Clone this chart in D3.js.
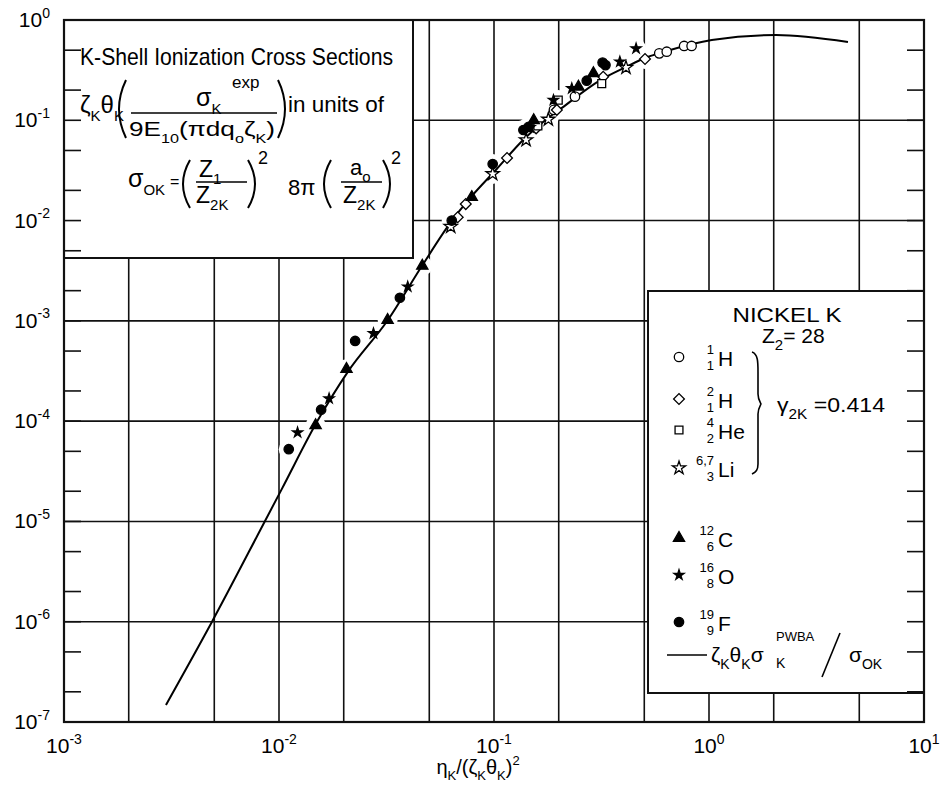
<!DOCTYPE html>
<html><head><meta charset="utf-8">
<script src="https://cdn.jsdelivr.net/npm/d3@7"></script>
<style>
body{margin:0;background:#fff}
svg{display:block}
text{font-family:"Liberation Sans",Arial,sans-serif;fill:#000}
</style>
</head><body>
<svg id="c" width="941" height="786"></svg>
<script>
// ---------------- data ----------------
const xDomain = [1e-3, 10];
const yDomain = [1e-7, 1];
const xTickValues = [1e-3, 1e-2, 1e-1, 1, 10];
const xTickExps = ["-3", "-2", "-1", "0", "1"];
const yTickValues = [1, 1e-1, 1e-2, 1e-3, 1e-4, 1e-5, 1e-6, 1e-7];
const yTickExps = ["0", "-1", "-2", "-3", "-4", "-5", "-6", "-7"];
const xGridValues = [2e-3, 5e-3, 1e-2, 2e-2, 5e-2, 1e-1, 2e-1, 5e-1, 1, 2, 5];
const yGridValues = [1e-1, 1e-2, 1e-3, 1e-4, 1e-5, 1e-6];
const yMinorValues = [5e-1, 2e-1, 5e-2, 2e-2, 5e-3, 2e-3, 5e-4, 2e-4, 5e-5, 2e-5, 5e-6, 2e-6, 5e-7, 2e-7,
                      1e-1, 1e-2, 1e-3, 1e-4, 1e-5, 1e-6];

// theory curve  zeta*theta*sigma_PWBA / sigma_0K
const curveX = [0.00298, 0.00488, 0.00861, 0.0103, 0.0152, 0.0209, 0.0321, 0.0462, 0.0631, 0.0782, 0.103, 0.138, 0.173, 0.207, 0.311, 0.414, 0.504, 0.636, 1.03, 2.05, 4.43];
const curveY = [1.48e-7, 1.0e-6, 1.01e-5, 2.1e-5, 1.03e-4, 3.1e-4, 1.02e-3, 3.52e-3, 9.7e-3, 1.72e-2, 3.27e-2, 6.5e-2, 0.100, 0.133, 0.250, 0.342, 0.418, 0.491, 0.632, 0.708, 0.604];

// experimental points
const H1x  = [0.19, 0.238, 0.587, 0.636, 0.766, 0.83];
const H1y  = [0.127, 0.172, 0.465, 0.483, 0.551, 0.551];
const H2x  = [0.0678, 0.0739, 0.115, 0.157, 0.196, 0.322, 0.504];
const H2y  = [1.08e-2, 1.46e-2, 4.2e-2, 8.3e-2, 0.127, 0.272, 0.409];
const He4x = [0.16, 0.199, 0.317];
const He4y = [0.088, 0.159, 0.232];
const Lix  = [0.0629, 0.0986, 0.141, 0.179, 0.411];
const Liy  = [8.7e-3, 2.92e-2, 6.36e-2, 0.102, 0.335];
const C12x = [0.0148, 0.0206, 0.032, 0.0464, 0.0788, 0.153, 0.247, 0.29];
const C12y = [9.1e-5, 3.3e-4, 1.02e-3, 3.53e-3, 1.71e-2, 0.100, 0.216, 0.294];
const O16x = [0.0122, 0.0171, 0.0275, 0.0397, 0.147, 0.189, 0.23, 0.385, 0.458];
const O16y = [7.7e-5, 1.68e-4, 7.5e-4, 2.19e-3, 0.085, 0.159, 0.208, 0.384, 0.52];
const F19x = [0.0111, 0.0157, 0.0226, 0.0365, 0.0636, 0.0986, 0.137, 0.145, 0.27, 0.32, 0.33];
const F19y = [5.25e-5, 1.3e-4, 6.3e-4, 1.7e-3, 1.0e-2, 3.66e-2, 0.080, 0.086, 0.248, 0.376, 0.355];

// ---------------- drawing ----------------
const svg = d3.select("#c");
const L = 64, R = 924, T = 20, B = 722;
const x = d3.scaleLog().domain(xDomain).range([L, R]);
const y = d3.scaleLog().domain(yDomain).range([B, T]);

const series = [
  {xs: H1x, ys: H1y, sym: "circle", fill: "#fff"},
  {xs: H2x, ys: H2y, sym: "diamond", fill: "#fff"},
  {xs: He4x, ys: He4y, sym: "square", fill: "#fff"},
  {xs: Lix, ys: Liy, sym: "ostar", fill: "#fff"},
  {xs: C12x, ys: C12y, sym: "triangle", fill: "#000"},
  {xs: O16x, ys: O16y, sym: "star", fill: "#000"},
  {xs: F19x, ys: F19y, sym: "fcircle", fill: "#000"}
];

// grid
const grid = svg.append("g").attr("stroke", "#111").attr("stroke-width", 1.6);
grid.selectAll(".gx").data(xGridValues).join("line")
  .attr("x1", d => x(d)).attr("x2", d => x(d)).attr("y1", T).attr("y2", B);
grid.selectAll(".gy").data(yGridValues).join("line")
  .attr("x1", L).attr("x2", R).attr("y1", d => y(d)).attr("y2", d => y(d));

// white halos (grid broken around data, as drafted)
const halo = svg.append("g").attr("fill", "#fff");
series.forEach(s => {
  halo.selectAll(null).data(s.xs.map((v, i) => [v, s.ys[i]])).join("circle")
    .attr("cx", d => x(d[0])).attr("cy", d => y(d[1])).attr("r", 10);
});

// boxes
const box1 = {x0: L, y0: T, x1: 413, y1: 258};
const box2 = {x0: 648, y0: 291, x1: R, y1: 693};
[box1, box2].forEach(b => {
  svg.append("rect").attr("x", b.x0).attr("y", b.y0).attr("width", b.x1 - b.x0).attr("height", b.y1 - b.y0)
    .attr("fill", "#fff").attr("stroke", "#111").attr("stroke-width", 2);
});

// short ticks on left/right frame
const ticks = svg.append("g").attr("stroke", "#111").attr("stroke-width", 1.6);
ticks.selectAll(".tl").data(yMinorValues).join("line")
  .attr("x1", L).attr("x2", L + 17).attr("y1", d => y(d)).attr("y2", d => y(d));
ticks.selectAll(".tr").data(yMinorValues).join("line")
  .attr("x1", R - 17).attr("x2", R).attr("y1", d => y(d)).attr("y2", d => y(d));

// frame
svg.append("rect").attr("x", L).attr("y", T).attr("width", R - L).attr("height", B - T)
  .attr("fill", "none").attr("stroke", "#111").attr("stroke-width", 2.2);

// curve
const line = d3.line().x((d, i) => x(curveX[i])).y((d, i) => y(curveY[i])).curve(d3.curveMonotoneX);
svg.append("path").datum(curveX).attr("d", line).attr("fill", "none").attr("stroke", "#000").attr("stroke-width", 2);

// symbols
function symPath(sym) {
  switch (sym) {
    case "circle": case "fcircle": return d3.symbol(d3.symbolCircle, 70)();
    case "diamond": return d3.symbol(d3.symbolSquare, 58)();
    case "square": return d3.symbol(d3.symbolSquare, 62)();
    case "ostar": return d3.symbol(d3.symbolStar, 55)();
    case "triangle": return d3.symbol(d3.symbolTriangle, 55)();
    case "star": return d3.symbol(d3.symbolStar, 32)();
  }
}
function drawSym(g, sym, fill, cx, cy) {
  g.append("path").attr("d", symPath(sym))
    .attr("transform", `translate(${cx},${cy})` + (sym === "diamond" ? " rotate(45)" : ""))
    .attr("fill", fill).attr("stroke", "#000").attr("stroke-width", 1.3);
}
const pts = svg.append("g");
series.forEach(s => {
  s.xs.forEach((v, i) => drawSym(pts, s.sym, s.fill, x(v), y(s.ys[i])));
});

// ---------------- text helpers ----------------
function rich(x0, y0, parts, size, anchor, len) {
  const t = svg.append("text").attr("x", x0).attr("y", y0).attr("font-size", size)
    .attr("text-anchor", anchor || "start");
  let cur = 0;
  parts.forEach(p => {
    const [s, m, fs] = p;
    const off = m === "sub" ? size * 0.32 : m === "sup" ? -size * 0.45 : 0;
    t.append("tspan").attr("dy", off - cur).attr("font-size", fs || (m === "n" ? size : size * 0.65)).text(s);
    cur = off;
  });
  if (len) t.attr("textLength", len).attr("lengthAdjust", "spacingAndGlyphs");
  return t;
}
function txt(x0, y0, s, size, anchor, len) {
  const t = svg.append("text").attr("x", x0).attr("y", y0).attr("font-size", size)
    .attr("text-anchor", anchor || "start").text(s);
  if (len) t.attr("textLength", len).attr("lengthAdjust", "spacingAndGlyphs");
  return t;
}
function paren(xa, ya, yb, bulge) {
  svg.append("path").attr("d", `M${xa},${ya} Q${xa + bulge},${(ya + yb) / 2} ${xa},${yb}`)
    .attr("fill", "none").attr("stroke", "#000").attr("stroke-width", 2);
}
function bar(xa, xb, yy) {
  svg.append("line").attr("x1", xa).attr("x2", xb).attr("y1", yy).attr("y2", yy)
    .attr("stroke", "#000").attr("stroke-width", 1.6);
}

// axis tick labels
xTickValues.forEach((v, i) => {
  rich(x(v), 753, [["10", "n"], [xTickExps[i], "sup", 14]], 21, "middle");
});
yTickValues.forEach((v, i) => {
  rich(50, y(v) + 7, [["10", "n"], [yTickExps[i], "sup", 14]], 21, "end");
});
// axis title
rich(478, 774, [["η", "n"], ["K", "sub", 13], ["/(ζ", "n"], ["K", "sub", 13], ["θ", "n"], ["K", "sub", 13], [")", "n"], ["2", "sup", 13]], 20, "middle");

// ---------------- top-left box text ----------------
txt(80, 65, "K-Shell Ionization Cross Sections", 24, "start", 313);
rich(80, 113, [["ζ", "n"], ["K", "sub", 15], ["θ", "n"], ["K", "sub", 15]], 24);
paren(126, 80, 138, -14);
rich(196, 106, [["σ", "n"], ["K", "sub", 15]], 25);
txt(232, 88, "exp", 17);
bar(131, 277, 113);
rich(129, 136, [["9E", "n"], ["10", "sub", 13], ["(πdq", "n"], ["o", "sub", 13], ["ζ", "n"], ["K", "sub", 13], [")", "n"]], 21, "start", 146);
paren(278, 80, 138, 14);
txt(288, 112, "in units of", 22, "start", 96);

rich(128, 187, [["σ", "n"], ["OK", "sub", 15]], 25);
txt(170, 187, "=", 16);
paren(190, 160, 208, -14);
rich(199, 177, [["Z", "n"], ["1", "sub", 15]], 23);
bar(196, 247, 182);
rich(196, 203, [["Z", "n"], ["2K", "sub", 15]], 23);
paren(248, 160, 208, 14);
txt(258, 164, "2", 18);
txt(288, 195, "8π", 22);
paren(331, 160, 208, -14);
rich(350, 175, [["a", "n"], ["o", "sub", 15]], 22);
bar(341, 382, 182);
rich(343, 203, [["Z", "n"], ["2K", "sub", 15]], 23);
paren(383, 160, 208, 14);
txt(391, 164, "2", 18);

// ---------------- legend ----------------
txt(787, 322, "NICKEL K", 21, "middle", 109);
rich(762, 343, [["Z", "n"], ["2", "sub", 15], ["= 28", "n"]], 21);

const legendRows = [
  {sym: "circle", fill: "#fff", y: 357, el: "H", a: "1", z: "1"},
  {sym: "diamond", fill: "#fff", y: 399, el: "H", a: "2", z: "1"},
  {sym: "square", fill: "#fff", y: 430, el: "He", a: "4", z: "2"},
  {sym: "ostar", fill: "#fff", y: 468, el: "Li", a: "6,7", z: "3"},
  {sym: "triangle", fill: "#000", y: 538, el: "C", a: "12", z: "6"},
  {sym: "star", fill: "#000", y: 575, el: "O", a: "16", z: "8"},
  {sym: "fcircle", fill: "#000", y: 622, el: "F", a: "19", z: "9"}
];
const lg = svg.append("g");
legendRows.forEach(r => {
  drawSym(lg, r.sym, r.fill, 679, r.y);
  txt(718, r.y + 9, r.el, 21);
  txt(714, r.y - 3, r.a, 13, "end");
  txt(714, r.y + 13, r.z, 13, "end");
});
// brace
svg.append("path")
  .attr("d", "M752,352 C758,354 758,362 758,372 L758,394 C758,399 760,402 761,404 C760,406 758,409 758,414 L758,464 C758,470 756,472 752,474")
  .attr("fill", "none").attr("stroke", "#000").attr("stroke-width", 1.6);
rich(777, 412, [["γ", "n"], ["2K", "sub", 14], [" =0.414", "n"]], 21, "start", 108);

// theory legend
svg.append("line").attr("x1", 667).attr("x2", 707).attr("y1", 655).attr("y2", 655)
  .attr("stroke", "#000").attr("stroke-width", 1.6);
rich(711, 662, [["ζ", "n"], ["K", "sub", 14], ["θ", "n"], ["K", "sub", 14], ["σ", "n"]], 21);
txt(776, 641, "PWBA", 13);
txt(776, 668, "K", 14);
svg.append("line").attr("x1", 822).attr("x2", 840).attr("y1", 677).attr("y2", 633)
  .attr("stroke", "#000").attr("stroke-width", 1.6);
rich(849, 662, [["σ", "n"], ["OK", "sub", 14]], 21);
</script>
</body></html>
